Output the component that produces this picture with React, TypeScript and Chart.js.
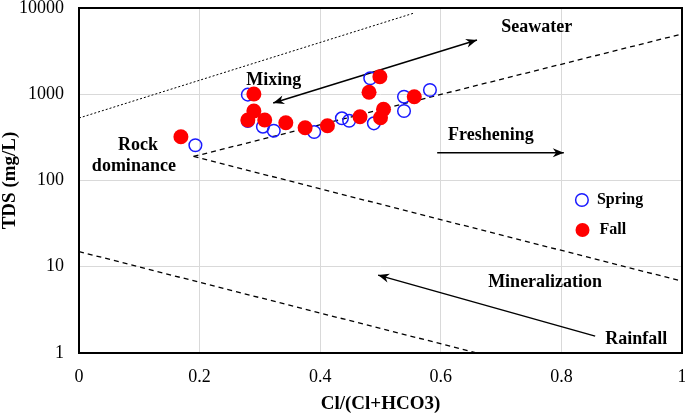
import React, { useEffect, useRef } from 'react';
import { Chart, registerables } from 'chart.js';

Chart.register(...registerables);

// Data
const springX = [0.193, 0.280, 0.280, 0.305, 0.323, 0.390, 0.436, 0.448, 0.483, 0.489, 0.539, 0.539, 0.582];
const springTDS = [256, 990, 490, 421, 378, 365, 526, 493, 1531, 460, 937, 640, 1120];
const fallX = [0.169, 0.290, 0.290, 0.280, 0.308, 0.343, 0.375, 0.412, 0.466, 0.481, 0.499, 0.505, 0.500, 0.556];
const fallTDS = [322, 1007, 640, 503, 503, 468, 409, 432, 549, 1054, 1597, 669, 535, 937];

// Boundary lines of the Gibbs diagram
const upperLineX = [0, 0.557];
const upperLineY = [530, 8800];
const seawaterLineX = [0.19, 1];
const seawaterLineY = [190, 5000];
const rainfallLineX = [0.19, 1];
const rainfallLineY = [190, 6.8];
const lowerLineX = [0, 0.66];
const lowerLineY = [15, 1];

// Axis ticks
const xTicks = [0, 0.2, 0.4, 0.6, 0.8, 1];
const yTicks = [1, 10, 100, 1000, 10000];

// Arrows
const arrowFromX = [0.322, 0.594, 0.856];
const arrowFromY = [792, 210, 1.57];
const arrowToX = [0.660, 0.804, 0.496];
const arrowToY = [4256, 210, 8.0];
const arrowDouble = [true, false, false];

// Annotation labels
const labelTexts = ['Seawater', 'Mixing', 'Rock', 'dominance', 'Freshening', 'Mineralization', 'Rainfall'];
const labelX = [0.759, 0.323, 0.098, 0.091, 0.683, 0.773, 0.924];
const labelY = [6000, 1462, 258, 147, 337, 6.65, 1.45];

// Legend
const legendNames = ['Spring', 'Fall'];
const legendX = [0.834, 0.835];
const legendY = [59.4, 26.7];

const toPts = (xs: number[], ys: number[]) => xs.map((x, i) => ({ x, y: ys[i] }));

const SERIF = '"Liberation Serif", "Times New Roman", serif';

function drawArrowHead(ctx: CanvasRenderingContext2D, fx: number, fy: number, tx: number, ty: number) {
  const ang = Math.atan2(ty - fy, tx - fx);
  const len = 11;
  const hw = 4.5;
  ctx.beginPath();
  ctx.moveTo(tx, ty);
  ctx.lineTo(tx - len * Math.cos(ang) + hw * Math.sin(ang), ty - len * Math.sin(ang) - hw * Math.cos(ang));
  ctx.lineTo(tx - len * 0.7 * Math.cos(ang), ty - len * 0.7 * Math.sin(ang));
  ctx.lineTo(tx - len * Math.cos(ang) - hw * Math.sin(ang), ty - len * Math.sin(ang) + hw * Math.cos(ang));
  ctx.closePath();
  ctx.fill();
}

const annotationPlugin = {
  id: 'gibbsAnnotations',
  beforeDatasetsDraw(chart: any) {
    const { ctx, scales } = chart;
    const xs = scales.x;
    const ys = scales.y;
    ctx.save();
    ctx.strokeStyle = '#000';
    ctx.fillStyle = '#000';
    ctx.lineWidth = 1.5;
    for (let i = 0; i < arrowFromX.length; i++) {
      const fx = xs.getPixelForValue(arrowFromX[i]);
      const fy = ys.getPixelForValue(arrowFromY[i]);
      const tx = xs.getPixelForValue(arrowToX[i]);
      const ty = ys.getPixelForValue(arrowToY[i]);
      ctx.beginPath();
      ctx.moveTo(fx, fy);
      ctx.lineTo(tx, ty);
      ctx.stroke();
      drawArrowHead(ctx, fx, fy, tx, ty);
      if (arrowDouble[i]) drawArrowHead(ctx, tx, ty, fx, fy);
    }
    ctx.restore();
  },
  afterDatasetsDraw(chart: any) {
    const { ctx, scales, chartArea } = chart;
    const xs = scales.x;
    const ys = scales.y;
    ctx.save();
    ctx.fillStyle = '#000';
    ctx.textAlign = 'center';
    ctx.textBaseline = 'middle';
    ctx.font = `bold 18px ${SERIF}`;
    for (let i = 0; i < labelTexts.length; i++) {
      ctx.fillText(labelTexts[i], xs.getPixelForValue(labelX[i]), ys.getPixelForValue(labelY[i]));
    }
    // legend
    ctx.font = `bold 16px ${SERIF}`;
    ctx.textAlign = 'left';
    for (let i = 0; i < legendNames.length; i++) {
      const px = xs.getPixelForValue(legendX[i]);
      const py = ys.getPixelForValue(legendY[i]);
      ctx.beginPath();
      ctx.arc(px, py, i === 0 ? 6.3 : 7, 0, Math.PI * 2);
      if (i === 0) {
        ctx.strokeStyle = '#1a1aff';
        ctx.lineWidth = 1.5;
        ctx.stroke();
      } else {
        ctx.fillStyle = '#ff0000';
        ctx.fill();
      }
      ctx.fillStyle = '#000';
      ctx.fillText(legendNames[i], px + (i === 0 ? 15 : 17), py);
    }
    // frame
    ctx.strokeStyle = '#000';
    ctx.lineWidth = 2;
    ctx.strokeRect(chartArea.left, chartArea.top, chartArea.right - chartArea.left, chartArea.bottom - chartArea.top);
    ctx.restore();
  },
};

export default function App() {
  const canvasRef = useRef<HTMLCanvasElement | null>(null);

  useEffect(() => {
    const canvas = canvasRef.current;
    if (!canvas) return;
    const lineDs = (xs: number[], ys: number[], dash: number[], width: number) => ({
      type: 'scatter' as const,
      data: toPts(xs, ys),
      showLine: true,
      borderColor: '#000',
      borderWidth: width,
      borderDash: dash,
      pointRadius: 0,
      fill: false,
      order: 3,
    });
    const chart = new Chart(canvas, {
      type: 'scatter',
      data: {
        datasets: [
          {
            label: 'Fall',
            data: toPts(fallX, fallTDS),
            pointRadius: 7.5,
            pointBackgroundColor: '#ff0000',
            pointBorderColor: '#ff0000',
            pointBorderWidth: 0,
            order: 0,
          },
          {
            label: 'Spring',
            data: toPts(springX, springTDS),
            pointRadius: 6.3,
            pointBackgroundColor: 'rgba(0,0,0,0)',
            pointBorderColor: '#1a1aff',
            pointBorderWidth: 1.5,
            order: 1,
          },
          lineDs(upperLineX, upperLineY, [2, 2], 1),
          lineDs(seawaterLineX, seawaterLineY, [5, 4], 1.3),
          lineDs(rainfallLineX, rainfallLineY, [5, 4], 1.3),
          lineDs(lowerLineX, lowerLineY, [5, 4], 1.3),
        ] as any,
      },
      options: {
        animation: false,
        responsive: false,
        devicePixelRatio: 1,
        layout: { autoPadding: false, padding: { left: 0, right: 3, top: 8, bottom: 0 } },
        plugins: { legend: { display: false }, tooltip: { enabled: false } },
        scales: {
          x: {
            type: 'linear',
            min: 0,
            max: 1,
            afterBuildTicks: (scale: any) => {
              scale.ticks = xTicks.map((v) => ({ value: v }));
            },
            afterFit: (scale: any) => {
              scale.height = 61;
              scale.paddingLeft = 0;
              scale.paddingRight = 0;
            },
            ticks: {
              color: '#000',
              font: { family: SERIF, size: 18 },
              padding: 13,
              maxRotation: 0,
              callback: (v: any) => String(Number(Number(v).toFixed(1))),
            },
            grid: { color: '#d9d9d9', lineWidth: 1, drawTicks: false },
            border: { display: false },
            title: {
              display: true,
              text: 'Cl/(Cl+HCO3)',
              color: '#000',
              font: { family: SERIF, size: 19, weight: 'bold', lineHeight: 1 },
              padding: { top: 0, bottom: 0.5 },
            },
          },
          y: {
            type: 'logarithmic',
            min: 1,
            max: 10000,
            afterBuildTicks: (scale: any) => {
              scale.ticks = yTicks.map((v) => ({ value: v }));
            },
            afterFit: (scale: any) => {
              scale.width = 79;
              scale.paddingTop = 0;
              scale.paddingBottom = 0;
            },
            ticks: {
              color: '#000',
              font: { family: SERIF, size: 18 },
              padding: 15,
              callback: (v: any) => String(v),
            },
            grid: { color: '#d9d9d9', lineWidth: 1, drawTicks: false },
            border: { display: false },
            title: {
              display: true,
              text: 'TDS (mg/L)',
              color: '#000',
              font: { family: SERIF, size: 19, weight: 'bold', lineHeight: 1 },
              padding: { top: 0.5, bottom: 0 },
            },
          },
        },
      } as any,
      plugins: [annotationPlugin],
    });
    return () => chart.destroy();
  }, []);

  return (
    <div style={{ position: 'absolute', left: 0, top: 0, width: 685, height: 414, background: '#fff' }}>
      <canvas ref={canvasRef} width={685} height={414} style={{ display: 'block' }} />
    </div>
  );
}
